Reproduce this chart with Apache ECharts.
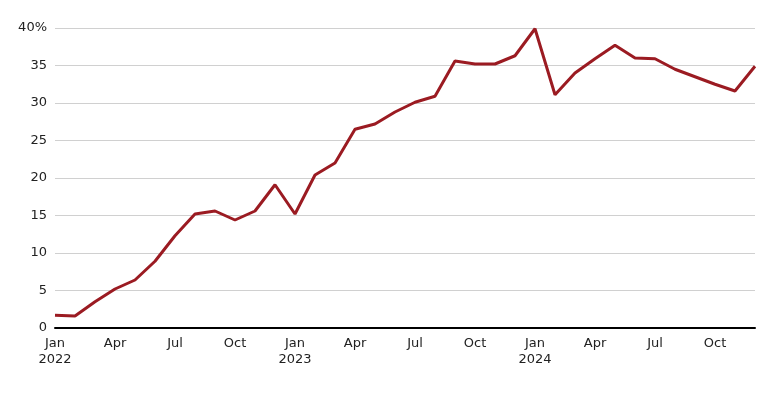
<!DOCTYPE html>
<html><head><meta charset="utf-8">
<script src="https://cdn.jsdelivr.net/npm/echarts@6/dist/echarts.min.js"></script>
<style>html,body{margin:0;padding:0;background:#fff}#c{width:780px;height:400px}</style>
</head><body><div id="c"></div>
<script>
const months = ['Jan','Feb','Mar','Apr','May','Jun','Jul','Aug','Sep','Oct','Nov','Dec'];
const years = ['2022','2023','2024'];
const values = [1.7,1.6,3.5,5.2,6.4,8.9,12.3,15.2,15.6,14.4,15.6,19.1,
  15.2,20.4,22.0,26.5,27.2,28.8,30.1,30.9,35.6,35.2,35.2,36.3,
  39.9,31.1,34.0,35.9,37.7,36.0,35.9,34.5,33.5,32.5,31.6,34.9];
const categories = [];
years.forEach(y => months.forEach(m => categories.push(m + ' ' + y)));
const chart = echarts.init(document.getElementById('c'));
chart.setOption({
  animation:false,
  grid:{left:55,right:25,top:28,bottom:72},
  xAxis:{type:'category',data:categories,boundaryGap:false,
    axisLine:{lineStyle:{color:'#000',width:2}},axisTick:{show:false},
    axisLabel:{interval:2,color:'#222',fontSize:13,fontFamily:'DejaVu Sans',lineHeight:16,
      formatter:v=>{const [m,y]=v.split(' ');return m==='Jan'?m+'\n'+y:m;}}},
  yAxis:{type:'value',min:0,max:40,interval:5,
    axisLabel:{color:'#222',fontSize:13,fontFamily:'DejaVu Sans',formatter:v=>v===40?'40%':v},
    splitLine:{lineStyle:{color:'#d0d0d0'}}},
  series:[{type:'line',data:values,symbol:'none',lineStyle:{color:'#9b1b22',width:3}}]
});
</script></body></html>
